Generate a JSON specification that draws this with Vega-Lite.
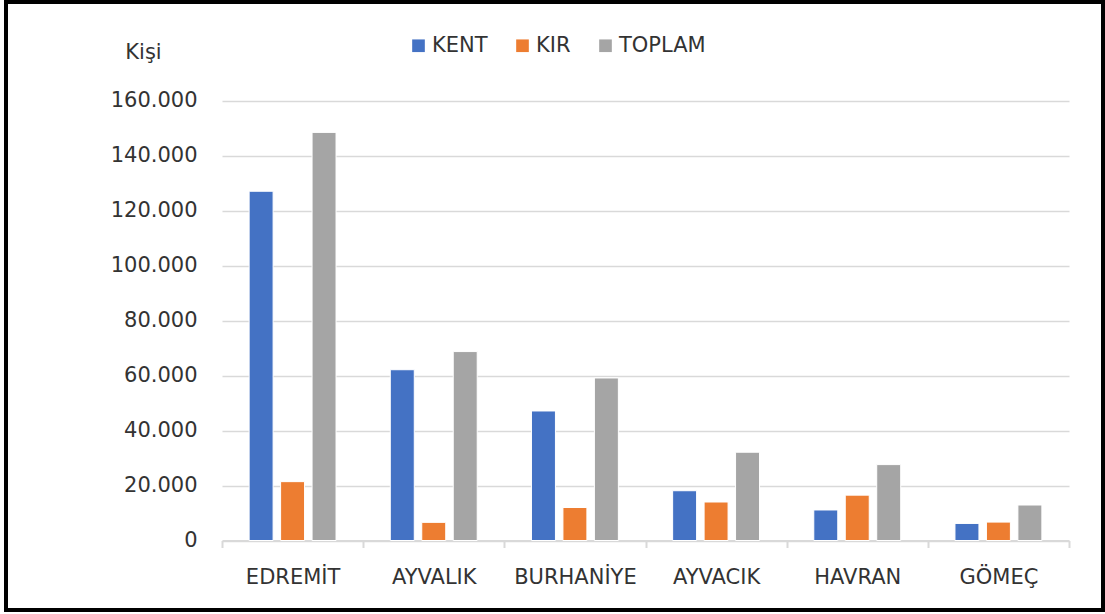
{
  "$schema": "https://vega.github.io/schema/vega-lite/v6.json",
  "width": 1097,
  "height": 608,
  "autosize": {"type": "none"},
  "padding": {"left": 6, "top": 2, "right": 2, "bottom": 4},
  "background": "white",
  "config": {"view": {"stroke": "black", "strokeWidth": 4}, "font": "DejaVu Sans"},
  "data": {
    "values": [
      {"ilce": "EDREMİT", "tur": "KENT", "kisi": 127000},
      {"ilce": "EDREMİT", "tur": "KIR", "kisi": 21400},
      {"ilce": "EDREMİT", "tur": "TOPLAM", "kisi": 148400},
      {"ilce": "AYVALIK", "tur": "KENT", "kisi": 62100},
      {"ilce": "AYVALIK", "tur": "KIR", "kisi": 6600},
      {"ilce": "AYVALIK", "tur": "TOPLAM", "kisi": 68700},
      {"ilce": "BURHANİYE", "tur": "KENT", "kisi": 47100},
      {"ilce": "BURHANİYE", "tur": "KIR", "kisi": 12000},
      {"ilce": "BURHANİYE", "tur": "TOPLAM", "kisi": 59100},
      {"ilce": "AYVACIK", "tur": "KENT", "kisi": 18100},
      {"ilce": "AYVACIK", "tur": "KIR", "kisi": 14000},
      {"ilce": "AYVACIK", "tur": "TOPLAM", "kisi": 32100},
      {"ilce": "HAVRAN", "tur": "KENT", "kisi": 11100},
      {"ilce": "HAVRAN", "tur": "KIR", "kisi": 16500},
      {"ilce": "HAVRAN", "tur": "TOPLAM", "kisi": 27600},
      {"ilce": "GÖMEÇ", "tur": "KENT", "kisi": 6200},
      {"ilce": "GÖMEÇ", "tur": "KIR", "kisi": 6700},
      {"ilce": "GÖMEÇ", "tur": "TOPLAM", "kisi": 12900}
    ]
  },
  "mark": {"type": "bar", "stroke": "white", "strokeWidth": 1},
  "encoding": {
    "x": {
      "field": "ilce",
      "type": "nominal",
      "sort": ["EDREMİT", "AYVALIK", "BURHANİYE", "AYVACIK", "HAVRAN", "GÖMEÇ"],
      "scale": {"range": [216, 1063], "paddingInner": 0, "paddingOuter": 0},
      "axis": {
        "orient": "bottom",
        "offset": -69.5,
        "title": null,
        "labelAngle": 0,
        "labelFontSize": 21,
        "labelColor": "#333333",
        "labelPadding": 19,
        "tickBand": "extent",
        "tickSize": 7,
        "tickColor": "#d9d9d9",
        "tickWidth": 2,
        "domainColor": "#d9d9d9",
        "domainWidth": 2,
        "grid": false
      }
    },
    "xOffset": {
      "field": "tur",
      "sort": ["KENT", "KIR", "TOPLAM"],
      "scale": {"paddingInner": 0.238, "paddingOuter": 0.862}
    },
    "y": {
      "field": "kisi",
      "type": "quantitative",
      "scale": {"domain": [0, 160000], "range": [538.5, 98.5], "nice": false},
      "axis": {
        "offset": -191,
        "values": [0, 20000, 40000, 60000, 80000, 100000, 120000, 140000, 160000],
        "labelExpr": "replace(format(datum.value, ','), ',', '.')",
        "ticks": false,
        "domain": false,
        "labelPadding": 0,
        "labelFontSize": 21,
        "labelColor": "#333333",
        "gridColor": "#d9d9d9",
        "gridWidth": 1.5,
        "title": "Kişi",
        "titleAngle": 0,
        "titleX": -54,
        "titleY": 56,
        "titleAlign": "center",
        "titleBaseline": "alphabetic",
        "titleFontSize": 21,
        "titleFontWeight": "normal",
        "titleColor": "#333333"
      }
    },
    "color": {
      "field": "tur",
      "type": "nominal",
      "sort": ["KENT", "KIR", "TOPLAM"],
      "scale": {"domain": ["KENT", "KIR", "TOPLAM"], "range": ["#4472C4", "#ED7D31", "#A5A5A5"]},
      "legend": {
        "title": null,
        "orient": "none",
        "legendX": 402,
        "legendY": 33,
        "direction": "horizontal",
        "symbolType": "square",
        "symbolSize": 160,
        "symbolStrokeWidth": 0,
        "labelFontSize": 21,
        "labelColor": "#333333",
        "labelOffset": 3,
        "columnPadding": 24,
        "padding": 0
      }
    }
  }
}
